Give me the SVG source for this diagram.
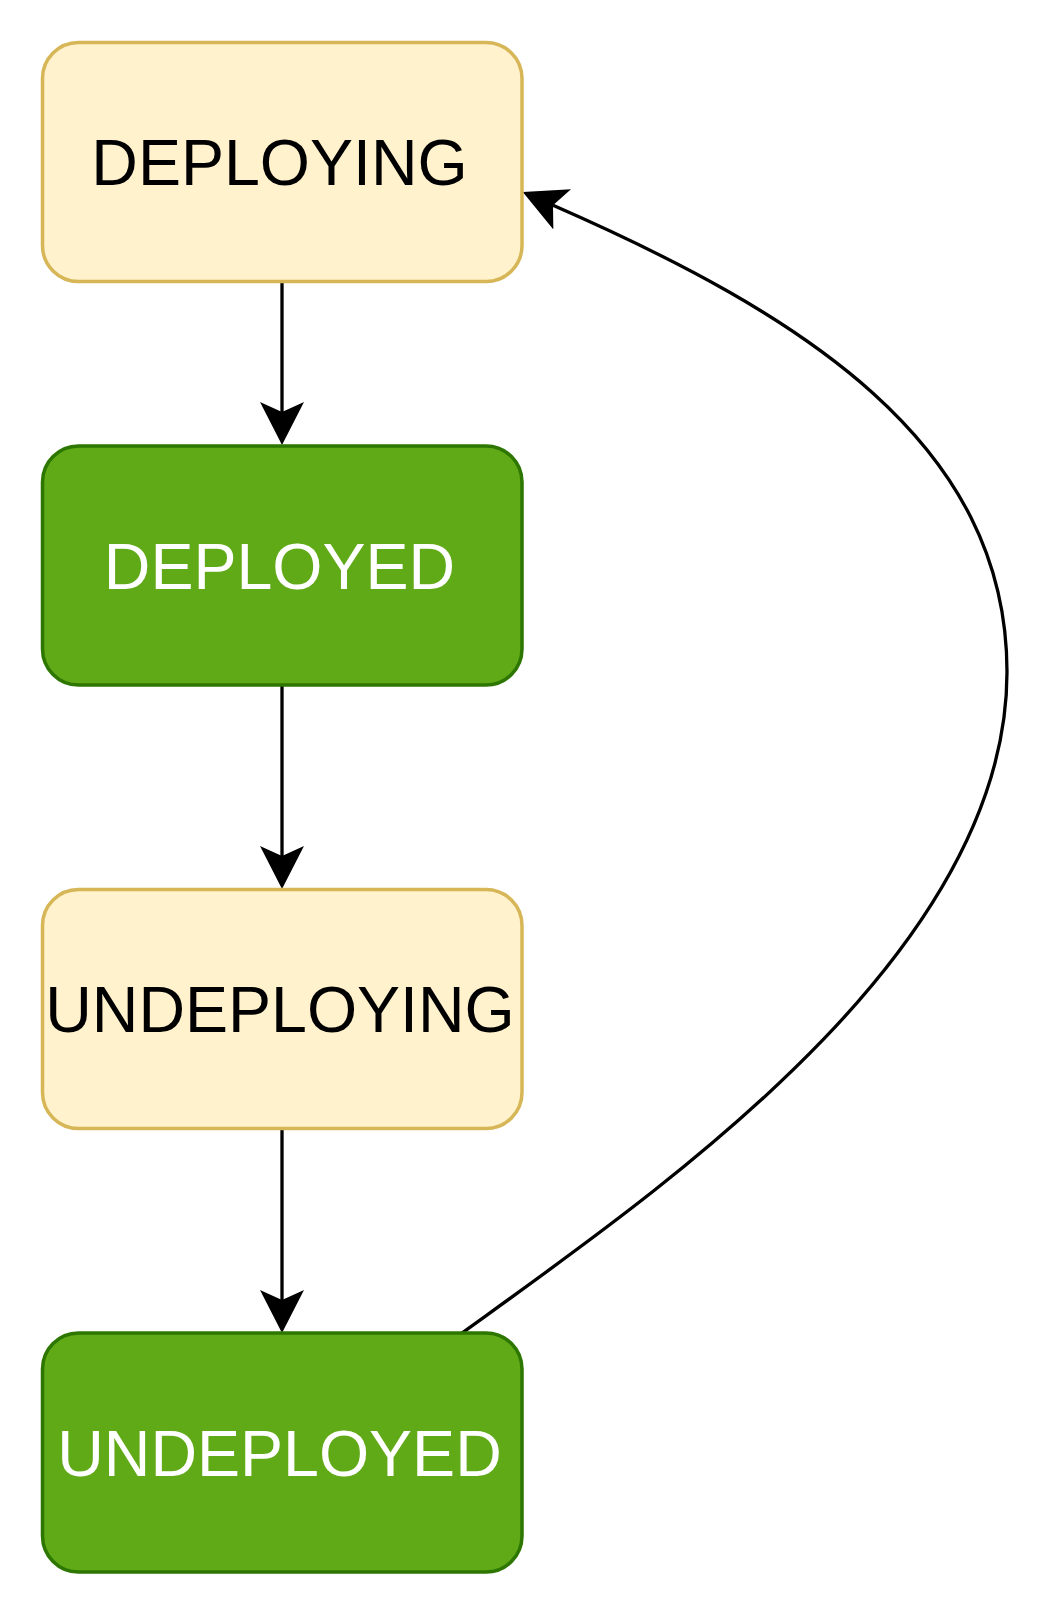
<svg xmlns="http://www.w3.org/2000/svg" width="1052" height="1616" viewBox="0 0 1052 1616">
  <style>
    .state { stroke-width: 3.5; }
    .pending { fill: #fff2cc; stroke: #d6b656; }
    .done { fill: #60a917; stroke: #2d7600; }
    .label { font-family: "Liberation Sans", Arial, sans-serif; font-size: 64.5px; text-anchor: middle; }
    .dark { fill: #000000; }
    .light { fill: #ffffff; }
    .edge { fill: none; stroke: #000000; stroke-width: 3.3; marker-end: url(#arrow); }
  </style>
  <defs>
    <!-- classic notched arrowhead; reference point sits on the notch -->
    <marker id="arrow" markerUnits="userSpaceOnUse" markerWidth="44" markerHeight="44" viewBox="0 0 44 44" refX="10" refY="22" orient="auto">
      <path d="M0,0 L43,22 L0,44 L10,22 Z" fill="#000000"/>
    </marker>
  </defs>

  <rect width="1052" height="1616" fill="#ffffff"/>

  <g id="connectors">
    <path class="edge" d="M282,281.5 L282,412"/>
    <path class="edge" d="M282,685 L282,856"/>
    <path class="edge" d="M282,1128.5 L282,1300"/>
    <path class="edge" d="M462,1333 C664.5,1186.8 1007,952 1007,672 C1007,442 800.3,313.5 553,205.3"/>
  </g>

  <g id="deploying">
    <rect class="state pending" x="42.5" y="42.5" width="479.5" height="239" rx="36" ry="36"/>
    <text class="label dark" x="279.5" y="185">DEPLOYING</text>
  </g>

  <g id="deployed">
    <rect class="state done" x="42.5" y="446" width="479.5" height="239" rx="36" ry="36"/>
    <text class="label light" x="279.5" y="588.5">DEPLOYED</text>
  </g>

  <g id="undeploying">
    <rect class="state pending" x="42.5" y="889.5" width="479.5" height="239" rx="36" ry="36"/>
    <text class="label dark" x="280" y="1032">UNDEPLOYING</text>
  </g>

  <g id="undeployed">
    <rect class="state done" x="42.5" y="1333" width="479.5" height="239" rx="36" ry="36"/>
    <text class="label light" x="279.5" y="1475.5">UNDEPLOYED</text>
  </g>
</svg>
